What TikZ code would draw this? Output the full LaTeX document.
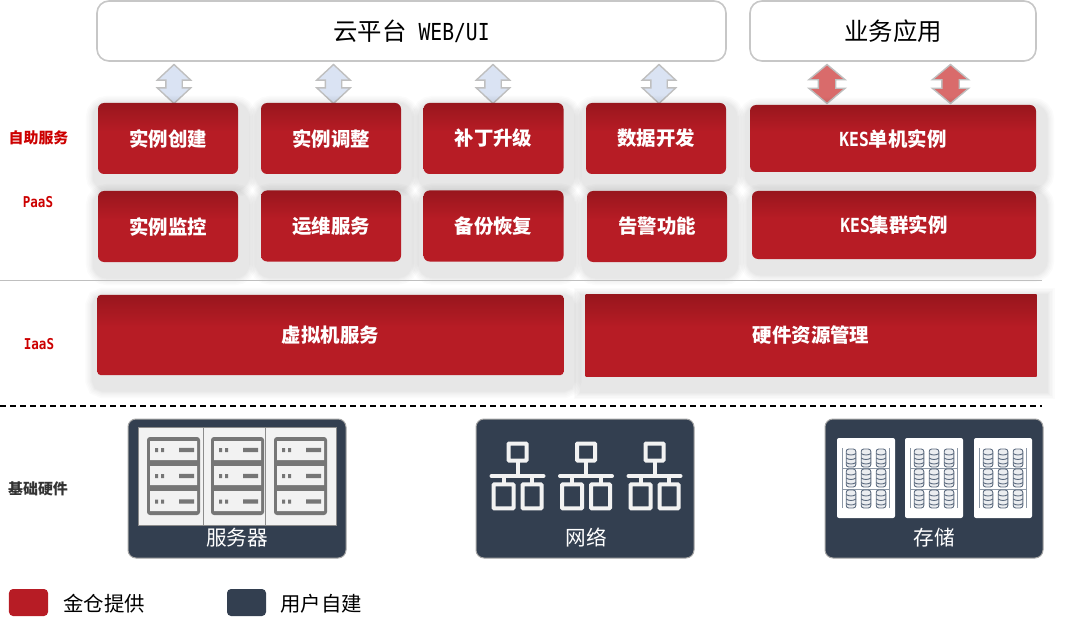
\documentclass[tikz,border=0pt]{standalone}
\usepackage{fontspec}
\setmainfont{Noto Sans CJK SC}
\newfontfamily\latinmono[FakeStretch=.84]{DejaVu Sans Mono}
\usetikzlibrary{shapes.arrows,shadows}

\definecolor{kesred}{HTML}{B71C25}
\definecolor{kesdark}{HTML}{98161D}
\definecolor{slatepanel}{HTML}{333F50}
\definecolor{iconfill}{HTML}{F2F2F2}
\definecolor{icongrey}{HTML}{767676}
\definecolor{diskblue}{HTML}{5B6A7E}
\definecolor{arrowblue}{HTML}{DAE3F3}
\definecolor{arrowpink}{HTML}{D96B6B}
\pgfdeclareverticalshading{redbar}{100bp}{color(0bp)=(kesred); color(55bp)=(kesred); color(75bp)=(kesdark); color(100bp)=(kesdark)}

\tikzset{
	softlayer/.style={general shadow={draw=black,opacity=.017,line width=#1,shadow xshift=3bp,shadow yshift=-8bp}},
	softshadow/.style={softlayer=30bp,softlayer=27bp,softlayer=24bp,softlayer=21bp,softlayer=19bp,softlayer=17bp},
	redbox/.style={softshadow,shade,shading=redbar,
		rounded corners=6bp,text=white,inner sep=0pt,font=\fontsize{19.5}{19.5}\bfseries\selectfont},
	cellbox/.style={redbox,minimum width=140bp,minimum height=71bp},
	whitebox/.style={draw=black!22,line width=1.6bp,fill=white,rounded corners=12bp,minimum height=60bp,
		inner sep=0pt,font=\fontsize{24.5}{24.5}\selectfont},
	blockarrow/.style={double arrow,rotate=90,draw=black!25,line width=1.4bp,minimum height=39bp,
		inner xsep=0pt,inner ysep=7.5bp,double arrow head extend=8.5bp,double arrow tip angle=94},
	bluearrow/.style={blockarrow,fill=arrowblue},
	pinkarrow/.style={blockarrow,fill=arrowpink,inner ysep=8bp,double arrow head extend=9.5bp,double arrow tip angle=100},
	sidelabel/.style={text=red!80!black,inner sep=0pt,font=\fontsize{15}{15}\bfseries\selectfont},
	hwpanel/.style={draw=black!35,line width=1bp,fill=slatepanel,rounded corners=8bp,minimum width=218bp,minimum height=139bp},
	hwlabel/.style={text=white,inner sep=0pt,font=\fontsize{20.7}{20.7}\selectfont},
	legendbox/.style={rounded corners=4bp,minimum width=39bp,minimum height=27bp},
	legendtext/.style={anchor=west,inner sep=0pt,font=\fontsize{20.5}{20.5}\selectfont},
	serverstack/.pic={
		\fill[icongrey,rounded corners=3bp] (0,0) rectangle (53,78);
		\fill[iconfill] (3,4) rectangle (50,23) (3,29) rectangle (50,48) (3,54) rectangle (50,74);
		\foreach \rowy in {13,39,64.5}{
			\fill[icongrey] (8,\rowy-2) rectangle (11,\rowy+2) (14,\rowy-2) rectangle (17,\rowy+2)
				(32,\rowy-2.2) rectangle (47,\rowy+2.2);
		}
	},
	switchicon/.pic={
		\draw[iconfill,line width=4bp,rounded corners=.8bp]
			(-9,1.5) rectangle (9,18.5)
			(-24,42.3) rectangle (-4,66.3)
			(5,42.3) rectangle (24,66.3);
		\draw[iconfill,line width=4bp,line cap=round] (-26,34) -- (26,34);
		\draw[iconfill,line width=4bp] (0,18.5) -- (0,34) (-14,34) -- (-14,42.3) (14.5,34) -- (14.5,42.3);
	},
	storagerack/.pic={
		\fill[white,rounded corners=2bp] (0,0) rectangle (58,80);
		\draw[diskblue!70,line width=.6bp] (5,10) -- (5,70) (52,10) -- (52,70) (5,30) -- (52,30) (5,51) -- (52,51);
		\foreach \coly in {14,29,44}{
			\foreach \rowy in {20,40,61}{
				\draw[diskblue,fill=diskblue!12,line width=.9bp,rounded corners=2.5bp]
					(\coly-4.8,\rowy-9) rectangle (\coly+4.8,\rowy+9);
				\draw[diskblue,line width=.9bp] (\coly-4.8,\rowy-4.5) .. controls (\coly-2,\rowy-2.5) and (\coly+2,\rowy-2.5) .. (\coly+4.8,\rowy-4.5)
					(\coly-4.8,\rowy) .. controls (\coly-2,\rowy+2) and (\coly+2,\rowy+2) .. (\coly+4.8,\rowy)
					(\coly-4.8,\rowy+4.5) .. controls (\coly-2,\rowy+6.5) and (\coly+2,\rowy+6.5) .. (\coly+4.8,\rowy+4.5);
			}
		}
	}
}

\begin{document}
\begin{tikzpicture}[x=1bp,y=-1bp]

	\useasboundingbox (0,0) rectangle (1080,617);

	\node[whitebox,minimum width=629bp] (webui) at (411.5,31) {云平台\hspace{12bp}{\latinmono\fontsize{23.5}{23.5}\selectfont WEB/UI}};
	\node[whitebox,minimum width=286bp] (bizapp) at (893,31) {业务应用};

	\node[bluearrow] (link1) at (174,84) {};
	\node[bluearrow] (link2) at (333.5,84) {};
	\node[bluearrow] (link3) at (493,84) {};
	\node[bluearrow] (link4) at (659,84) {};
	\node[pinkarrow] (link5) at (827,84) {};
	\node[pinkarrow] (link6) at (950.5,84) {};

	\node[sidelabel] (selfservice) at (38.5,137.5) {自助服务};
	\node[sidelabel] (paas) at (38,202.5) {\latinmono PaaS};
	\node[sidelabel] (iaas) at (39,344.5) {\latinmono IaaS};
	\node[sidelabel,text=black!80] (hardware) at (38,488.5) {基础硬件};

	\node[cellbox] (create) at (168,138.5) {实例创建};
	\node[cellbox] (adjust) at (331,138.5) {实例调整};
	\node[cellbox] (patch) at (493.5,138.5) {补丁升级};
	\node[cellbox] (develop) at (656,138.5) {数据开发};
	\node[redbox,minimum width=286bp,minimum height=67bp] (single) at (893,138.5) {{\latinmono KES}单机实例};

	\node[cellbox] (monitor) at (168,226.5) {实例监控};
	\node[cellbox] (ops) at (331,226) {运维服务};
	\node[cellbox] (backup) at (493.5,226) {备份恢复};
	\node[cellbox] (alarm) at (657,226.5) {告警功能};
	\node[redbox,minimum width=284bp,minimum height=68bp] (cluster) at (894,225) {{\latinmono KES}集群实例};

	\coordinate (solidleft) at (0,280);
	\coordinate (solidright) at (1042,280);
	\draw[black!25,line width=.8bp] (solidleft) -- (solidright);

	\node[redbox,rounded corners=3bp,minimum width=466bp,minimum height=80bp] (vmservice) at (330.5,335) {虚拟机服务};
	\node[redbox,rounded corners=0bp,minimum width=451bp,minimum height=81bp] (resmgmt) at (811,335.5) {硬件资源管理};

	\coordinate (dashleft) at (0,406);
	\coordinate (dashright) at (1042,406);
	\draw[black,dashed,line width=1.2bp,dash pattern=on 6bp off 4bp] (dashleft) -- (dashright);

	\node[hwpanel] (servers) at (237,488.5) {};
	\node[hwpanel] (network) at (585,488.5) {};
	\node[hwpanel] (storage) at (934,488.5) {};

	% server panel
	\draw[black!45,line width=.8bp,fill=iconfill] (138,427.5) rectangle (336,525.5);
	\draw[black!45,line width=.8bp] (203,427.5) -- (203,525.5) (265,427.5) -- (265,525.5);
	\pic at (147,437) {serverstack};
	\pic at (211,437) {serverstack};
	\pic at (274,437) {serverstack};
	\node[hwlabel] (serverstext) at (237,537.5) {服务器};

	% network panel
	\pic at (517.5,442) {switchicon};
	\pic at (586,442) {switchicon};
	\pic at (654.5,442) {switchicon};
	\node[hwlabel] (networktext) at (586,537.5) {网络};

	% storage panel
	\pic at (837,438) {storagerack};
	\pic at (905,438) {storagerack};
	\pic at (974,438) {storagerack};
	\node[hwlabel] (storagetext) at (934,537.5) {存储};

	\node[legendbox,fill=kesred] (legendred) at (28.5,602.5) {};
	\node[legendtext] (legendredtext) at (63,604) {金仓提供};
	\node[legendbox,fill=slatepanel] (legenddark) at (246.5,602.5) {};
	\node[legendtext] (legenddarktext) at (280,604) {用户自建};

\end{tikzpicture}
\end{document}
